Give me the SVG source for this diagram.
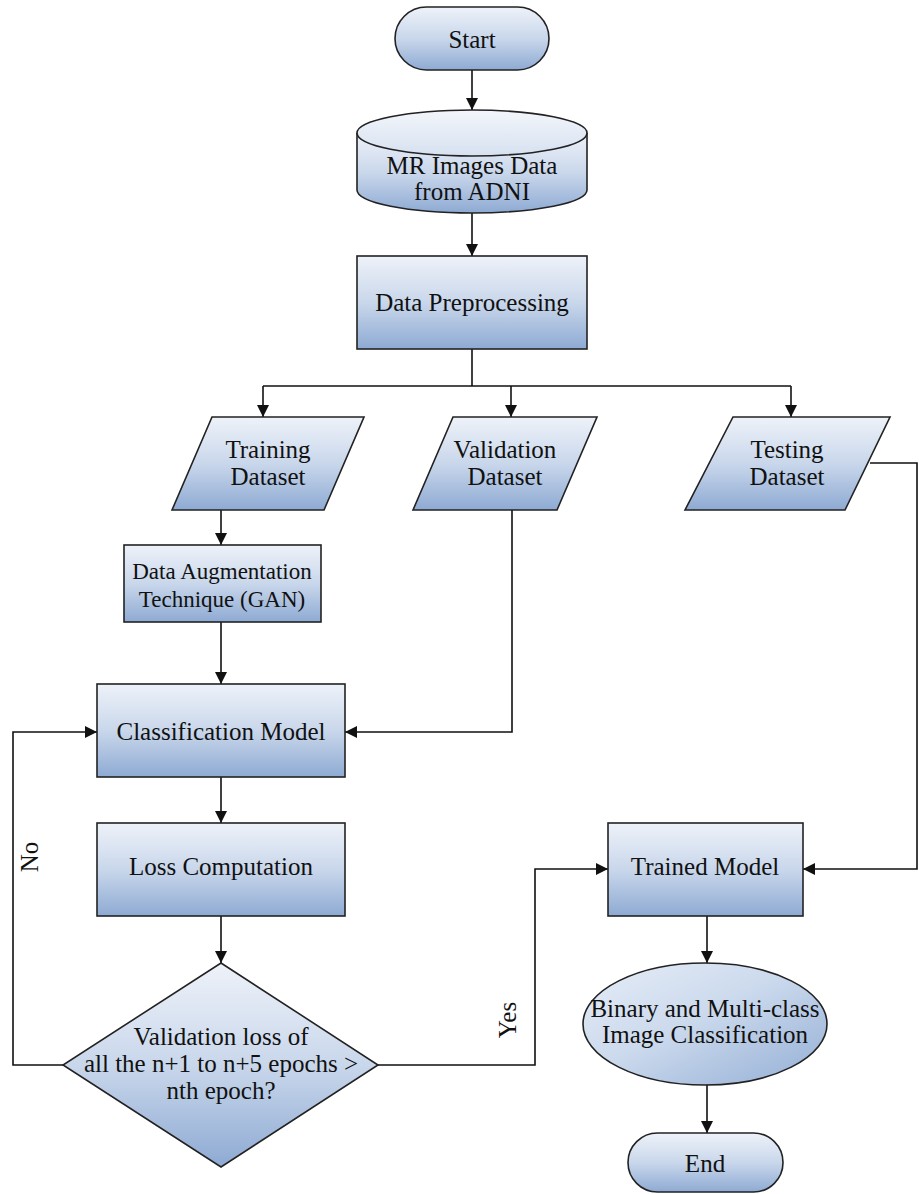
<svg xmlns="http://www.w3.org/2000/svg" width="919" height="1194" viewBox="0 0 919 1194">
  <defs>
    <linearGradient id="fillV" x1="0" y1="0" x2="0" y2="1">
      <stop offset="0" stop-color="#eef2f9"/>
      <stop offset="0.5" stop-color="#c9d7eb"/>
      <stop offset="1" stop-color="#8eaad3"/>
    </linearGradient>
    <linearGradient id="fillD" x1="0" y1="0" x2="1" y2="1">
      <stop offset="0" stop-color="#e6edf7"/>
      <stop offset="0.45" stop-color="#ccdaed"/>
      <stop offset="1" stop-color="#93aed5"/>
    </linearGradient>
    <linearGradient id="fillTop" x1="0" y1="0" x2="0" y2="1">
      <stop offset="0" stop-color="#f3f6fb"/>
      <stop offset="1" stop-color="#d6e1f0"/>
    </linearGradient>
    <marker id="arrow" viewBox="0 0 12 12" refX="12" refY="6" markerWidth="12" markerHeight="12" markerUnits="userSpaceOnUse" orient="auto">
      <path d="M0,0 L12,6 L0,12 Z" fill="#111"/>
    </marker>
    <style>
      .shape { fill: url(#fillV); stroke: #222; stroke-width: 1.6; }
      .shapeD { fill: url(#fillD); stroke: #222; stroke-width: 1.6; }
      .label { font-family: 'Liberation Serif', 'DejaVu Serif', serif; font-size: 25px; fill: #111; text-anchor: middle; }
      .edge { fill: none; stroke: #111; stroke-width: 1.6; }
      .arr { marker-end: url(#arrow); }
    </style>
  </defs>

  <!-- connectors -->
  <g id="connectors">
    <path class="edge arr" d="M472,70 V110"/>
    <path class="edge arr" d="M472,213 V256"/>
    <path class="edge" d="M472,349 V386"/>
    <path class="edge" d="M263,386 H791"/>
    <path class="edge arr" d="M263,386 V417"/>
    <path class="edge arr" d="M511,386 V417"/>
    <path class="edge arr" d="M791,386 V417"/>
    <path class="edge arr" d="M221,510 V545"/>
    <path class="edge arr" d="M221,622 V684"/>
    <path class="edge arr" d="M512,510 V732 H345"/>
    <path class="edge arr" d="M870,463 H917 V869 H803"/>
    <path class="edge arr" d="M221,777 V823"/>
    <path class="edge arr" d="M221,916 V963"/>
    <path class="edge arr" d="M63,1065 H13 V732 H97"/>
    <path class="edge arr" d="M378,1065 H535 V869 H608"/>
    <path class="edge arr" d="M707,916 V963"/>
    <path class="edge arr" d="M707,1085 V1133"/>
    <text class="label" transform="translate(38,857) rotate(-90)">No</text>
    <text class="label" transform="translate(516,1020) rotate(-90)">Yes</text>
  </g>

  <g id="start">
    <rect class="shape" x="395" y="7" width="154" height="63" rx="31.5"/>
    <text class="label" x="472" y="48">Start</text>
  </g>

  <g id="mr-images">
    <path class="shape" d="M357,133 V190 A115,23 0 0 0 587,190 V133"/>
    <ellipse cx="472" cy="133" rx="115" ry="23" fill="url(#fillTop)" stroke="#222" stroke-width="1.6"/>
    <text class="label" x="472" y="174">MR Images Data</text>
    <text class="label" x="472" y="200">from ADNI</text>
  </g>

  <g id="preprocessing">
    <rect class="shape" x="357" y="256" width="230" height="93"/>
    <text class="label" x="472" y="311">Data Preprocessing</text>
  </g>

  <g id="training">
    <polygon class="shape" points="212,417 364,417 324,510 172,510"/>
    <text class="label" x="268" y="458">Training</text>
    <text class="label" x="268" y="485">Dataset</text>
  </g>

  <g id="validation">
    <polygon class="shape" points="453,417 597,417 557,510 413,510"/>
    <text class="label" x="505" y="458">Validation</text>
    <text class="label" x="505" y="485">Dataset</text>
  </g>

  <g id="testing">
    <polygon class="shape" points="733,417 890,417 845,510 685,510"/>
    <text class="label" x="787" y="458">Testing</text>
    <text class="label" x="787" y="485">Dataset</text>
  </g>

  <g id="augmentation">
    <rect class="shape" x="124" y="545" width="197" height="77"/>
    <text class="label" x="222" y="579" style="font-size:23px">Data Augmentation</text>
    <text class="label" x="222" y="607" style="font-size:23px">Technique (GAN)</text>
  </g>

  <g id="classification">
    <rect class="shape" x="97" y="684" width="248" height="93"/>
    <text class="label" x="221" y="740">Classification Model</text>
  </g>

  <g id="loss">
    <rect class="shape" x="97" y="823" width="248" height="93"/>
    <text class="label" x="221" y="875">Loss Computation</text>
  </g>

  <g id="decision">
    <polygon class="shape" points="221,963 378,1065 221,1167 63,1065"/>
    <text class="label" x="221" y="1045">Validation loss of</text>
    <text class="label" x="221" y="1072">all the n+1 to n+5 epochs &gt;</text>
    <text class="label" x="221" y="1099">nth epoch?</text>
  </g>

  <g id="trained">
    <rect class="shape" x="608" y="823" width="195" height="93"/>
    <text class="label" x="705" y="875">Trained Model</text>
  </g>

  <g id="classification-result">
    <ellipse class="shapeD" cx="705" cy="1024" rx="122" ry="61"/>
    <text class="label" x="705" y="1017">Binary and Multi-class</text>
    <text class="label" x="705" y="1043">Image Classification</text>
  </g>

  <g id="end">
    <rect class="shape" x="628" y="1133" width="155" height="59" rx="29.5"/>
    <text class="label" x="705" y="1172">End</text>
  </g>
</svg>
